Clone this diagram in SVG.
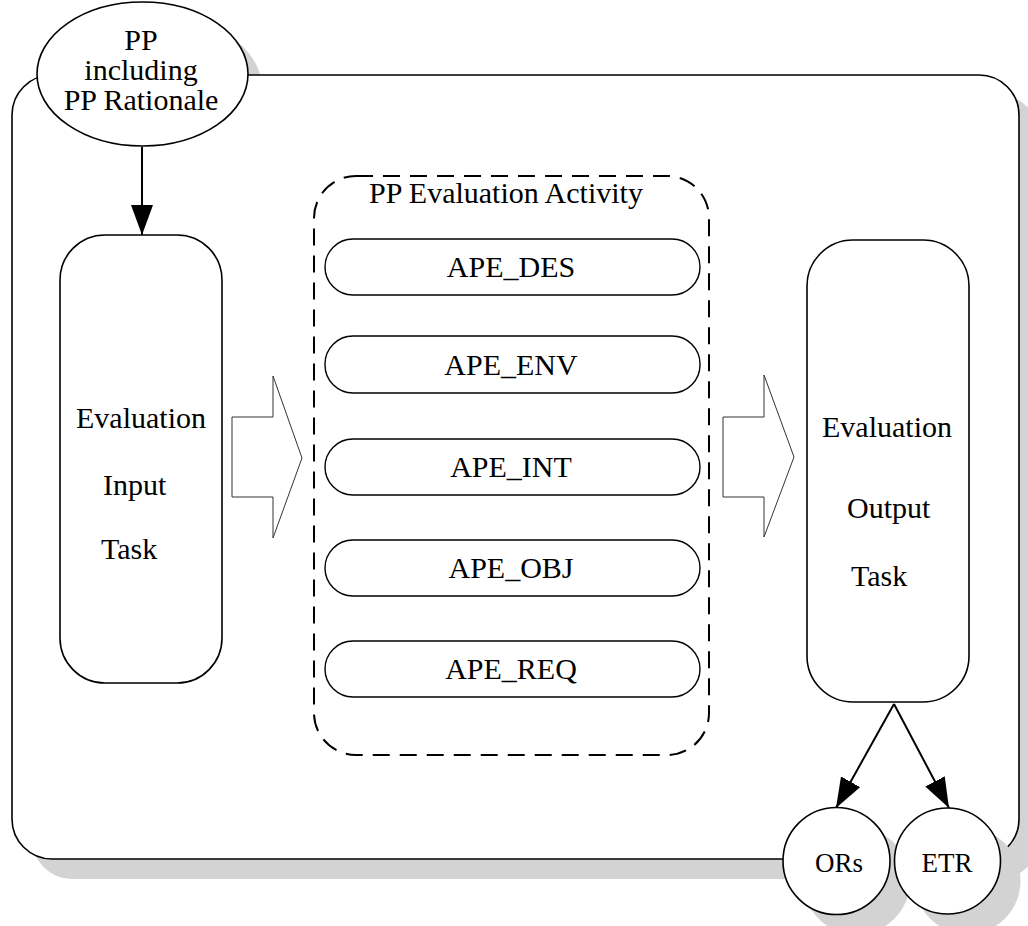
<svg xmlns="http://www.w3.org/2000/svg" width="1028" height="926" viewBox="0 0 1028 926">
  <style>
    text { font-family: "Liberation Serif", "Times New Roman", serif; font-size: 30px; fill: #000; }
    .mid { text-anchor: middle; }
    .shadow { fill: #d3d3d3; stroke: none; }
    .box { fill: #fff; stroke: #000; stroke-width: 1.6; }
    .pill { fill: #fff; stroke: #000; stroke-width: 1.4; }
    .dashed { fill: none; stroke: #000; stroke-width: 2; stroke-dasharray: 17 10; }
    .block { fill: #fff; stroke: #333; stroke-width: 1; }
    .flow { fill: none; stroke: #000; stroke-width: 2; marker-end: url(#head); }
    .small { font-size: 27px; }
  </style>
  <defs>
    <marker id="head" markerUnits="userSpaceOnUse" markerWidth="30" markerHeight="22" viewBox="0 0 30 22" refX="30" refY="11" orient="auto">
      <path d="M0,0 L30,11 L0,22 Z" fill="#000"/>
    </marker>
  </defs>

  <!-- drop shadows -->
  <ellipse class="shadow" cx="156.5" cy="88" rx="105.5" ry="72"/>
  <rect class="shadow" x="32" y="95" width="1007" height="784" rx="40" ry="40"/>

  <!-- surrounding frame -->
  <g id="frame">
    <rect class="box" x="12" y="75" width="1007" height="784" rx="40" ry="40"/>
  </g>

  <!-- input document -->
  <g id="pp">
    <ellipse class="box" cx="142.5" cy="74" rx="105.5" ry="72"/>
    <text class="mid" x="141" y="50">PP</text>
    <text class="mid" x="141" y="80">including</text>
    <text class="mid" x="141" y="110">PP Rationale</text>
  </g>

  <g id="input-task">
    <rect class="box" x="60" y="235" width="162" height="448" rx="45" ry="45"/>
    <text x="76" y="428">Evaluation</text>
    <text x="103" y="495">Input</text>
    <text x="101" y="559">Task</text>
  </g>

  <g id="activity">
    <rect class="dashed" x="314" y="176" width="395" height="579" rx="42" ry="42"/>
    <text class="mid" x="506" y="203">PP Evaluation Activity</text>
  </g>

  <g id="ape-des">
    <rect class="pill" x="325" y="239" width="375" height="56" rx="28" ry="28"/>
    <text class="mid" x="511" y="277">APE_DES</text>
  </g>
  <g id="ape-env">
    <rect class="pill" x="325" y="336" width="375" height="57" rx="28" ry="28"/>
    <text class="mid" x="511" y="375">APE_ENV</text>
  </g>
  <g id="ape-int">
    <rect class="pill" x="325" y="439" width="375" height="56" rx="28" ry="28"/>
    <text class="mid" x="511" y="477">APE_INT</text>
  </g>
  <g id="ape-obj">
    <rect class="pill" x="325" y="540" width="375" height="56" rx="28" ry="28"/>
    <text class="mid" x="511" y="578">APE_OBJ</text>
  </g>
  <g id="ape-req">
    <rect class="pill" x="325" y="641" width="375" height="56" rx="28" ry="28"/>
    <text class="mid" x="511" y="679">APE_REQ</text>
  </g>

  <g id="output-task">
    <rect class="box" x="807" y="240" width="162" height="462" rx="46" ry="46"/>
    <text x="822" y="437">Evaluation</text>
    <text x="847" y="518">Output</text>
    <text x="851" y="586">Task</text>
  </g>

  <!-- connectors -->
  <g id="connectors">
    <line class="flow" x1="142" y1="147" x2="142" y2="235"/>
    <polygon class="block" points="232,417 273,417 273,376 302,458 273,538 273,497 232,497"/>
    <polygon class="block" points="723,417 764,417 764,375 794,457 764,537 764,497 723,497"/>
    <line class="flow" x1="894" y1="704" x2="836" y2="808"/>
    <line class="flow" x1="894" y1="704" x2="949" y2="808"/>
  </g>

  <!-- output circles with shadows -->
  <circle class="shadow" cx="856.5" cy="881" r="53.5"/>
  <circle class="shadow" cx="967.5" cy="881" r="53"/>
  <g id="ors">
    <circle class="box" cx="836.5" cy="861" r="53.5"/>
    <text class="mid small" x="839" y="872">ORs</text>
  </g>
  <g id="etr">
    <circle class="box" cx="947.5" cy="861" r="53"/>
    <text class="mid small" x="947" y="872">ETR</text>
  </g>
</svg>
